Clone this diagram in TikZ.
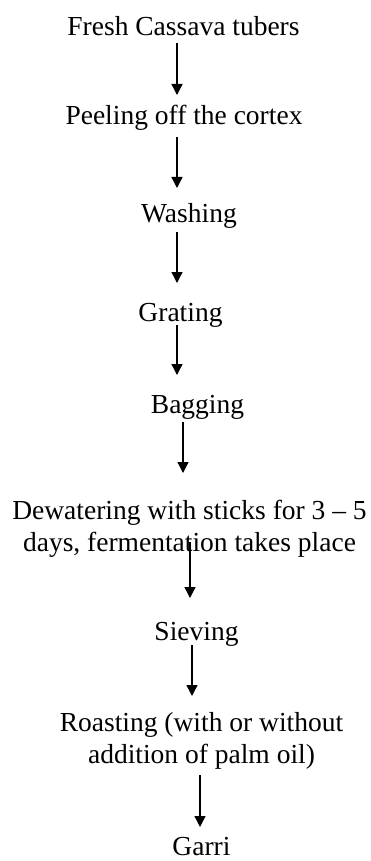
\documentclass[tikz,border=0pt]{standalone}
\usepackage{fontspec}
\setmainfont{Liberation Serif}
\usetikzlibrary{arrows.meta}
\tikzset{
  lbl/.style={inner sep=0pt, outer sep=0pt, font=\fontsize{27.5}{32.5}\selectfont, align=center},
  arr/.style={line width=1.3pt, -{Triangle[width=11pt,length=11pt]}}
}
\begin{document}
\begin{tikzpicture}[x=1pt,y=-1pt]
\useasboundingbox (0,0) rectangle (370,861);
\node[lbl, anchor=base] (n1) at (183.5,36) {Fresh Cassava tubers};
\node[lbl, anchor=base] (n2) at (184,125) {Peeling off the cortex};
\node[lbl, anchor=base] (n3) at (189,222) {Washing};
\node[lbl, anchor=base] (n4) at (180.5,321) {Grating};
\node[lbl, anchor=base] (n5) at (197.5,413) {Bagging};
\node[lbl, anchor=north] (n6) at (189.5,500) {Dewatering with sticks for 3 -- 5\\days, fermentation takes place};
\node[lbl, anchor=base] (n7) at (196.5,640) {Sieving};
\node[lbl, anchor=north] (n8) at (201.5,712) {Roasting (with or without\\addition of palm oil)};
\node[lbl, anchor=base] (n9) at (201.5,855) {Garri};

\draw[arr] ([shift={(-6.5,7)}]n1.base) -- ([shift={(-7,-30)}]n2.base);
\draw[arr] ([shift={(-7,12)}]n2.base) -- ([shift={(-12,-34)}]n3.base);
\draw[arr] ([shift={(-12,10)}]n3.base) -- ([shift={(-3.5,-38)}]n4.base);
\draw[arr] ([shift={(-3.5,4)}]n4.base) -- ([shift={(-20.5,-38)}]n5.base);
\draw[arr] ([shift={(-14.5,9)}]n5.base) -- ([shift={(-6.5,-27)}]n6.north);
\draw[arr] ([shift={(0.5,42)}]n6.north) -- ([shift={(-6.5,-42)}]n7.base);
\draw[arr] ([shift={(-4.5,5)}]n7.base) -- ([shift={(-9.5,-16)}]n8.north);
\draw[arr] ([shift={(-1.5,63)}]n8.north) -- ([shift={(-1.5,-28)}]n9.base);
\end{tikzpicture}
\end{document}
